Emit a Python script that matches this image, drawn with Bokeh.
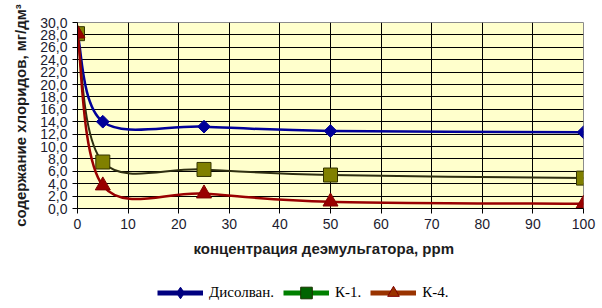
import math
from bokeh.plotting import figure
from bokeh.layouts import column
from bokeh.models import (Range1d, FixedTicker, CustomJSTickFormatter, Legend, LegendItem,
                          ColumnDataSource, Title)
from bokeh.embed import file_html
from bokeh.resources import INLINE

# ---- data ----
conc = [0, 5, 25, 50, 100]
disolvan = [28.2, 14.0, 13.2, 12.5, 12.3]
k1 = [28.2, 7.5, 6.3, 5.4, 4.9]
k4 = [28.2, 3.7, 2.4, 1.1, 0.75]
series_names = ["Дисолван.", "К-1.", "К-4."]
x_ticks = list(range(0, 101, 10))
y_ticks = list(range(0, 31, 2))
x_title = "концентрация деэмульгатора, ppm"
y_title = "содержание хлоридов, мг/дм³"


def smooth(xs, ys, t=1.0 / 6.0):
    """Catmull-Rom style Bezier segments through the points (Excel 'smoothed line')."""
    n = len(xs)
    seg = dict(x0=[], y0=[], x1=[], y1=[], cx0=[], cy0=[], cx1=[], cy1=[])
    for i in range(n - 1):
        p0 = (xs[max(i - 1, 0)], ys[max(i - 1, 0)])
        p1 = (xs[i], ys[i])
        p2 = (xs[i + 1], ys[i + 1])
        p3 = (xs[min(i + 2, n - 1)], ys[min(i + 2, n - 1)])
        seg["x0"].append(p1[0]); seg["y0"].append(p1[1])
        seg["x1"].append(p2[0]); seg["y1"].append(p2[1])
        seg["cx0"].append(p1[0] + (p2[0] - p0[0]) * t)
        seg["cy0"].append(p1[1] + (p2[1] - p0[1]) * t)
        seg["cx1"].append(p2[0] - (p3[0] - p1[0]) * t)
        seg["cy1"].append(p2[1] - (p3[1] - p1[1]) * t)
    return seg


p = figure(width=602, height=270, output_backend="svg", toolbar_location=None,
           x_range=Range1d(0, 100), y_range=Range1d(0, 30),
           min_border_left=77, min_border_right=19, min_border_top=22, min_border_bottom=62)
p.border_fill_color = "white"
p.background_fill_color = "#FFFFCC"
p.outline_line_color = "#8c8c8c"
p.outline_line_width = 1

# axes
p.xaxis.ticker = FixedTicker(ticks=x_ticks)
p.yaxis.ticker = FixedTicker(ticks=y_ticks)
p.yaxis.formatter = CustomJSTickFormatter(code="return tick.toFixed(1).replace('.', ',');")
for ax in (p.xaxis[0], p.yaxis[0]):
    ax.axis_line_color = "black"
    ax.major_tick_line_color = "black"
    ax.minor_tick_line_color = None
    ax.major_tick_in = 0
    ax.major_tick_out = 5
    ax.major_label_text_font = "Liberation Sans"
    ax.major_label_text_font_size = "14px"
    ax.major_label_text_color = "#1c1c30"
p.xaxis.major_label_standoff = 5
p.yaxis.major_label_standoff = 5
p.yaxis.axis_label = y_title
p.yaxis.axis_label_text_font = "Liberation Sans"
p.yaxis.axis_label_text_font_style = "bold"
p.yaxis.axis_label_text_font_size = "15px"
p.yaxis.axis_label_text_color = "#1c1c1c"
p.yaxis.axis_label_standoff = 8

# grid
p.xgrid.ticker = FixedTicker(ticks=x_ticks[1:-1])
p.ygrid.ticker = FixedTicker(ticks=y_ticks[1:-1])
p.xgrid.grid_line_color = "black"
p.ygrid.grid_line_color = "black"
p.xgrid.grid_line_alpha = 1
p.ygrid.grid_line_alpha = 1

# legend strip (its frame is aligned with the main frame by the column layout);
# its ranges keep the legend's own data copies out of view
lg = figure(width=602, height=38, output_backend="svg", toolbar_location=None,
            x_range=Range1d(-1000, -999), y_range=Range1d(-1000, -999),
            min_border_left=0, min_border_right=0, min_border_top=0, min_border_bottom=0,
            x_axis_location=None, y_axis_location=None)
lg.grid.visible = False
lg.outline_line_color = None
lg.background_fill_color = "white"
lg.border_fill_color = "white"

# series
styles = [
    dict(data=disolvan, line="#000099", lw=2.5, marker="square", angle=math.pi / 4, size=9,
         fill="#000099", mline="#000099", leg_line="#000080", leg_marker="diamond",
         leg_fill="#000080", leg_mline="#000080"),
    dict(data=k1, line="#2e2e10", lw=2, marker="square", angle=0, size=14,
         fill="#808000", mline="#333300", leg_line="#008000", leg_marker="square",
         leg_fill="#006400", leg_mline="#1a3300"),
    dict(data=k4, line="#990000", lw=2.5, marker="triangle", angle=0, size=15,
         fill="#990000", mline="#800000", leg_line="#993300", leg_marker="triangle",
         leg_fill="#993300", leg_mline="#800000"),
]

items = []
for name, st in zip(series_names, styles):
    seg = smooth(conc, st["data"])
    p.bezier(x0="x0", y0="y0", x1="x1", y1="y1", cx0="cx0", cy0="cy0", cx1="cx1", cy1="cy1",
             source=ColumnDataSource(seg), line_color=st["line"], line_width=st["lw"])
    p.scatter(conc, st["data"], marker=st["marker"], angle=st["angle"], size=st["size"],
              fill_color=st["fill"], line_color=st["mline"], line_width=1)
    # legend renderers (same data, drawn out of view in the legend strip)
    lr = lg.line(conc, st["data"], line_color=st["leg_line"], line_width=5)
    mr = lg.scatter(conc, st["data"], marker=st["leg_marker"], fill_color=st["leg_fill"],
                    line_color=st["leg_mline"], line_width=1)
    items.append(LegendItem(label=name, renderers=[lr, mr]))

xt = Title(text=x_title, align="left", offset=116, standoff=13,
           text_font="Liberation Sans", text_font_style="bold", text_font_size="15px",
           text_color="#1c1c1c", text_line_height=1.7, vertical_align="bottom")
p.add_layout(xt, "below")

legend = Legend(items=items, orientation="horizontal", location=(80, 1),
                glyph_width=46, glyph_height=29, label_standoff=6, spacing=9,
                padding=0, margin=0, background_fill_alpha=0, border_line_alpha=0,
                label_text_font="Liberation Serif", label_text_font_size="15px",
                label_text_color="black")
lg.add_layout(legend, "center")

open("out.html", "w").write(file_html(column(p, lg, spacing=0), INLINE))
